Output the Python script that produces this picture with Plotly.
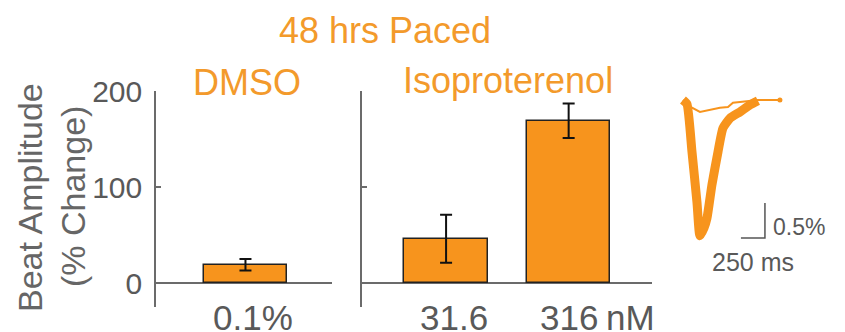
import plotly.graph_objects as go

# ---------------- data ----------------
dmso_cats = [1]
dmso_labels = ["0.1%"]
dmso_vals = [19]
dmso_err = [6]

iso_cats = [1, 2]
iso_labels = ["31.6", "316"]
iso_unit = "nM"
iso_vals = [46, 169]
iso_err = [25, 18]

y_ticks = [0, 100, 200]
y_title_lines = ["Beat Amplitude", "(% Change)"]

# example transient (time in ms, signal in % change)
trace_big_t = [0, 42, 94, 146, 177, 219, 250, 302, 365, 417, 490, 594, 698, 781]
trace_big_v = [0, -0.06, -0.74, -1.46, -1.94, -1.83, -1.69, -1.21, -0.74, -0.40,
               -0.26, -0.17, -0.07, -0.01]
trace_small_t = [0, 94, 177, 281, 385, 469, 521, 594, 781, 1010]
trace_small_v = [0, -0.11, -0.17, -0.14, -0.11, -0.10, -0.04, -0.03, 0, 0]
scale_t = 250     # ms
scale_v = 0.5     # %

# ---------------- style ----------------
W, H = 845, 332
OFF = 8  # page body margin
ORANGE = "#F7941D"
ORANGE_TXT = "#F39A2B"
GRAY = "#595959"
AX = "#6b6b6b"
FONT = "Liberation Sans, Arial, sans-serif"


def px(x):
    return (x - OFF) / W


def py(y):
    return 1 - (y - OFF) / H


fig = go.Figure()

bar_style = dict(marker=dict(color=ORANGE, line=dict(color="#222222", width=1.5)),
                 width=0.68, showlegend=False, hoverinfo="skip")
err_style = dict(type="data", color="#111111", thickness=2, width=6)

fig.add_trace(go.Bar(x=dmso_cats, y=dmso_vals, error_y=dict(array=dmso_err, **err_style),
                     xaxis="x", yaxis="y", **bar_style))
fig.add_trace(go.Bar(x=iso_cats, y=iso_vals, error_y=dict(array=iso_err, **err_style),
                     xaxis="x2", yaxis="y2", **bar_style))

# transients
fig.add_trace(go.Scatter(x=trace_small_t, y=trace_small_v, mode="lines",
                         line=dict(color=ORANGE, width=2), xaxis="x3", yaxis="y3",
                         showlegend=False, hoverinfo="skip"))
fig.add_trace(go.Scatter(x=trace_big_t, y=trace_big_v, mode="lines",
                         line=dict(color=ORANGE, width=9, shape="spline", smoothing=0.5),
                         xaxis="x3", yaxis="y3", showlegend=False, hoverinfo="skip"))
fig.add_trace(go.Scatter(x=[trace_small_t[-1]], y=[trace_small_v[-1]], mode="markers",
                         marker=dict(color=ORANGE, size=5), xaxis="x3", yaxis="y3",
                         showlegend=False, hoverinfo="skip"))

# scale bar
sb_t0 = 854
sb_v0 = -1.97
fig.add_trace(go.Scatter(x=[sb_t0 - scale_t, sb_t0, sb_t0], y=[sb_v0, sb_v0, sb_v0 + scale_v],
                         mode="lines", line=dict(color="#555555", width=1.5),
                         xaxis="x3", yaxis="y3", showlegend=False, hoverinfo="skip"))

ydom = [py(307), py(91)]
yrange = [-25, 200]
common_x = dict(showline=False, showticklabels=False, ticks="", zeroline=False,
                showgrid=False, fixedrange=True)
common_y = dict(range=yrange, domain=ydom, showline=True, linecolor=AX, linewidth=1.5,
                ticks="inside", ticklen=5, tickwidth=1.5, tickcolor=AX, tickvals=y_ticks,
                zeroline=True, zerolinecolor=AX, zerolinewidth=1.5, showgrid=False,
                fixedrange=True)

fig.update_layout(
    width=W, height=H, margin=dict(l=0, r=0, t=0, b=0, autoexpand=False),
    paper_bgcolor="white", plot_bgcolor="white",
    font=dict(family=FONT, color=GRAY),
    bargap=0,
    xaxis=dict(domain=[px(156), px(332)], range=[0.27, 1.706], anchor="y", **common_x),
    yaxis=dict(anchor="x", showticklabels=True, ticklabelstandoff=6,
               tickfont=dict(size=30, color=GRAY, family=FONT), **common_y),
    xaxis2=dict(domain=[px(362), px(652)], range=[0.314, 2.68], anchor="y2", **common_x),
    yaxis2=dict(anchor="x2", showticklabels=False, **common_y),
    xaxis3=dict(domain=[px(670), px(840)], range=[-135, 1636], anchor="y3", visible=False,
                fixedrange=True),
    yaxis3=dict(domain=[py(250), py(90)], range=[-2.143, 0.143], anchor="x3", visible=False,
                fixedrange=True),
)

ann = []
title_font = dict(size=36, color=ORANGE_TXT, family=FONT)
ann.append(dict(text="48 hrs Paced", x=px(385), y=py(30), xref="paper", yref="paper",
                showarrow=False, font=title_font, xanchor="center", yanchor="middle"))
ann.append(dict(text="DMSO", x=px(247), y=py(82), xref="paper", yref="paper",
                showarrow=False, font=title_font, xanchor="center", yanchor="middle"))
ann.append(dict(text="Isoproterenol", x=px(508), y=py(81), xref="paper", yref="paper",
                showarrow=False, font=title_font, xanchor="center", yanchor="middle"))
# y label (two lines)
for line, xc, yc in zip(y_title_lines, [30, 73], [198, 197]):
    ann.append(dict(text=line, x=px(xc), y=py(yc), xref="paper", yref="paper",
                    showarrow=False, textangle=-90,
                    font=dict(size=34, color="#666666", family=FONT),
                    xanchor="center", yanchor="middle"))
# category labels
cat_font = dict(size=35, color=GRAY, family=FONT)
for c, lab in zip(dmso_cats, dmso_labels):
    ann.append(dict(text=lab, x=c, y=py(317), xref="x", yref="paper", showarrow=False,
                    xshift=8, font=cat_font, xanchor="center", yanchor="middle"))
for i, (c, lab) in enumerate(zip(iso_cats, iso_labels)):
    ann.append(dict(text=lab, x=c, y=py(317), xref="x2", yref="paper", showarrow=False,
                    xshift=8 if i == 0 else 0, font=cat_font,
                    xanchor="center", yanchor="middle"))
ann.append(dict(text=iso_unit, x=iso_cats[-1], y=py(317), xref="x2", yref="paper",
                showarrow=False, xshift=35, font=cat_font, xanchor="left", yanchor="middle"))
# scale bar labels
ann.append(dict(text=f"{scale_v}%", x=sb_t0, y=sb_v0 + scale_v * 0.3, xref="x3", yref="y3",
                showarrow=False, xshift=6, font=dict(size=23, color=GRAY, family=FONT),
                xanchor="left", yanchor="middle"))
ann.append(dict(text=f"{scale_t} ms", x=sb_t0 - scale_t / 2, y=sb_v0, xref="x3", yref="y3",
                showarrow=False, yshift=-24, font=dict(size=25, color=GRAY, family=FONT),
                xanchor="center", yanchor="middle"))
fig.update_layout(annotations=ann)

fig.write_html("out.html")
